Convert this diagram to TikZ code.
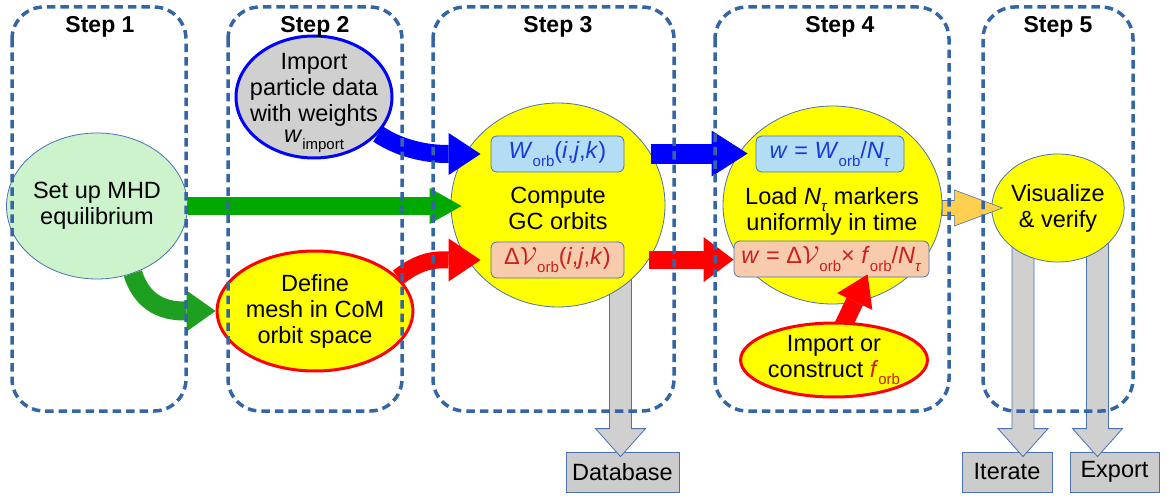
\documentclass[tikz,border=0pt]{standalone}
\usepackage{fontspec}
\setmainfont{Liberation Sans}
\usetikzlibrary{shapes.geometric,arrows.meta,calc}
\definecolor{frameblue}{HTML}{3465A4}
\definecolor{thinblue}{HTML}{4A72B0}
\definecolor{mhdgreen}{HTML}{CCF3CC}
\definecolor{nodeyellow}{HTML}{FFFF00}
\definecolor{importgray}{HTML}{D0D0D0}
\definecolor{boxgray}{HTML}{CCCCCC}
\definecolor{lightbluebox}{HTML}{B3DDF5}
\definecolor{peachbox}{HTML}{F8CBAD}
\definecolor{textblue}{HTML}{1C3AD8}
\definecolor{textred}{HTML}{C9211E}
\definecolor{arrblue}{HTML}{0000FF}
\definecolor{arrred}{HTML}{FF0000}
\definecolor{arrgreen}{HTML}{00A800}
\definecolor{arrgreenb}{HTML}{1F9F1F}
\definecolor{arrorange}{HTML}{FFD04F}
\definecolor{arrgray}{HTML}{D0D0D0}
\newcommand\lowsub[1]{\raisebox{-0.33em}{\fontsize{15}{15}\selectfont #1}}
% vertical gray block arrow: #1 start (shaft top), #2 tip
\newcommand\grayblock[2]{%
  \filldraw[grayarrow] let \p1=(#1), \p2=(#2) in
    (\x2-11pt,\y1) -- (\x2-11pt,\y2+28pt) -- (\x2-25pt,\y2+28pt) -- (\x2,\y2)
    -- (\x2+25pt,\y2+28pt) -- (\x2+11pt,\y2+28pt) -- (\x2+11pt,\y1) -- cycle;}
% horizontal orange block arrow: #1 start, #2 tip
\newcommand\orangeblock[2]{%
  \filldraw[orangearrow] let \p1=(#1), \p2=(#2) in
    (\x1,\y2+7.5pt) -- (\x2-48pt,\y2+7.5pt) -- (\x2-48pt,\y2+18pt) -- (\x2,\y2)
    -- (\x2-48pt,\y2-18pt) -- (\x2-48pt,\y2-7.5pt) -- (\x1,\y2-7.5pt) -- cycle;}
\begin{document}
\begin{tikzpicture}[x=1pt,y=-1pt,
  font=\fontsize{23.5}{26}\selectfont,
  stepbox/.style={draw=frameblue, line width=3.5pt, dash pattern=on 8.5pt off 5pt, rounded corners=32pt},
  steptitle/.style={font=\fontsize{23}{24}\selectfont\bfseries, anchor=base},
  ell/.style={ellipse, inner sep=0pt, align=center},
  mathbox/.style={rectangle, rounded corners=6pt, draw=thinblue, line width=0.8pt, inner sep=0pt},
  outbox/.style={rectangle, fill=boxgray, draw=thinblue, line width=0.8pt, inner sep=0pt},
  grayarrow/.style={fill=arrgray, draw=thinblue, line width=0.8pt},
  orangearrow/.style={fill=arrorange, draw=thinblue, line width=0.6pt},
  bluearr/.style={draw=arrblue, line width=18pt, -{Triangle[length=32pt,width=42pt,line width=0pt]}},
  redarr/.style={draw=arrred, line width=17pt, -{Triangle[length=32pt,width=43pt,line width=0pt]}},
  greenarr/.style={draw=arrgreen, line width=18pt, -{Triangle[length=32pt,width=36pt,line width=0pt]}},
  greenarrb/.style={draw=arrgreenb, line width=19pt, -{Triangle[length=29pt,width=41pt,line width=0pt]}},
]
\useasboundingbox (0,0) rectangle (1167,497);

% output boxes
\node[outbox, minimum width=113, minimum height=40] (database) at (622.5,472) {Database};
\node[outbox, minimum width=90, minimum height=40] (iterate) at (1007,472) {Iterate};
\node[outbox, minimum width=89, minimum height=40] (export) at (1114.5,472) {Export};

% circles / ellipses (with gray arrows behind)
\node[ell, minimum width=214, minimum height=204] (compute) at (558,205) {};
\node[ell, minimum width=132, minimum height=108] (visualize) at (1058,208) {};
\grayblock{compute.center}{$(database.north)+(-2,5)$}
\grayblock{visualize.center}{$(iterate.north)+(16,5)$}
\grayblock{visualize.center}{$(export.north)+(-17,5)$}

\node[ell, fill=mhdgreen, draw=thinblue, line width=0.8pt, minimum width=160, minimum height=146] (mhd) at (97,206) {Set up MHD\\equilibrium};
\node[ell, fill=importgray, draw=arrblue, line width=3pt, minimum width=156, minimum height=122] (import) at (314,97) {};
\node[align=center, inner sep=0pt] (importtxt) at (314,103) {Import\\particle data\\with weights\\[-5pt]\textit{w}\lowsub{import}};
\node[ell, fill=nodeyellow, draw=arrred, line width=3pt, minimum width=156, minimum height=120] (mesh) at (315,311) {Define\\mesh in CoM\\orbit space};
\node[ell, fill=nodeyellow, draw=thinblue, line width=0.8pt, minimum width=214, minimum height=204] (computec) at (558,205) {};
\node[align=center, inner sep=0pt] (computetxt) at (558,208) {Compute\\GC orbits};
\node[ell, fill=nodeyellow, draw=thinblue, line width=0.8pt, minimum width=219, minimum height=198] (load) at (832.5,205) {};
\node[align=center, inner sep=0pt] (loadtxt) at (832,211) {Load \textit{N}\lowsub{\textit{τ}} markers\\uniformly in time};
\node[ell, fill=nodeyellow, draw=thinblue, line width=0.8pt, minimum width=132, minimum height=108] (visualizec) at (1058,208) {Visualize\\\& verify};

% formula boxes
\node[mathbox, fill=lightbluebox, minimum width=133, minimum height=36, text=textblue] (worb) at (557.5,154) {\textit{W}\lowsub{orb}(\textit{i},\textit{j},\textit{k})};
\node[mathbox, fill=peachbox, minimum width=133, minimum height=36, text=textred] (dvorb) at (557.5,260) {Δ$\mathcal{V}$\lowsub{orb}(\textit{i},\textit{j},\textit{k})};
\node[mathbox, fill=lightbluebox, minimum width=148, minimum height=36, text=textblue] (wload) at (830,154) {\textit{w} = \textit{W}\lowsub{orb}/\textit{N}\lowsub{\textit{τ}}};
\node[mathbox, fill=peachbox, minimum width=195, minimum height=36, text=textred] (dvload) at (831.5,259) {\textit{w} = Δ$\mathcal{V}$\lowsub{orb}× \textit{f}\lowsub{orb}/\textit{N}\lowsub{\textit{τ}}};

% colored arrows
\draw[greenarr] (mhd.east) -- ($(mhd.east -| computec.west)+(11,0)$);
\draw[greenarrb] (mhd.-62) .. controls +(12,38) and +(-40,0) .. (mesh.west);
\draw[bluearr] (import.-30) .. controls +(30,20) and +(-40,0) .. ($(worb.west)+(-10,0)$);
\draw[redarr] (mesh.22) .. controls +(25,-20) and +(-40,0) .. ($(dvorb.west)+(-10,0)$);
\draw[bluearr, line width=20pt, -{Triangle[length=36pt,width=46pt,line width=0pt]}] (computec.29) -- ($(computec.29 -| wload.west)+(-8,0)$);
\draw[redarr, line width=18pt, -{Triangle[length=30pt,width=45pt,line width=0pt]}] (computec.-31) -- (computec.-31 -| dvload.west);
\draw[redarr, line width=18pt, -{Triangle[length=30pt,width=39pt,line width=0pt]}] (834,345) -- ($(dvload.south west)+(134,-3)$);
\node[ell, fill=nodeyellow, draw=arrred, line width=3pt, minimum width=176, minimum height=74] (fimport) at (834,360) {Import or\\construct {\color{textred}\textit{f}\lowsub{orb}}};
\orangeblock{load.east}{$(visualizec.west)+(11,0)$}

% step frames
\draw[stepbox] (12,7) rectangle (186,411);
\draw[stepbox] (228,7) rectangle (402,411);
\draw[stepbox] (433,7) rectangle (674,411);
\draw[stepbox] (715,7) rectangle (949,411);
\draw[stepbox] (983,7) rectangle (1133,411);
\node[steptitle] (s1) at (100,33) {Step 1};
\node[steptitle] (s2) at (315,33) {Step 2};
\node[steptitle] (s3) at (558,33) {Step 3};
\node[steptitle] (s4) at (840,33) {Step 4};
\node[steptitle] (s5) at (1058,33) {Step 5};
\end{tikzpicture}
\end{document}
